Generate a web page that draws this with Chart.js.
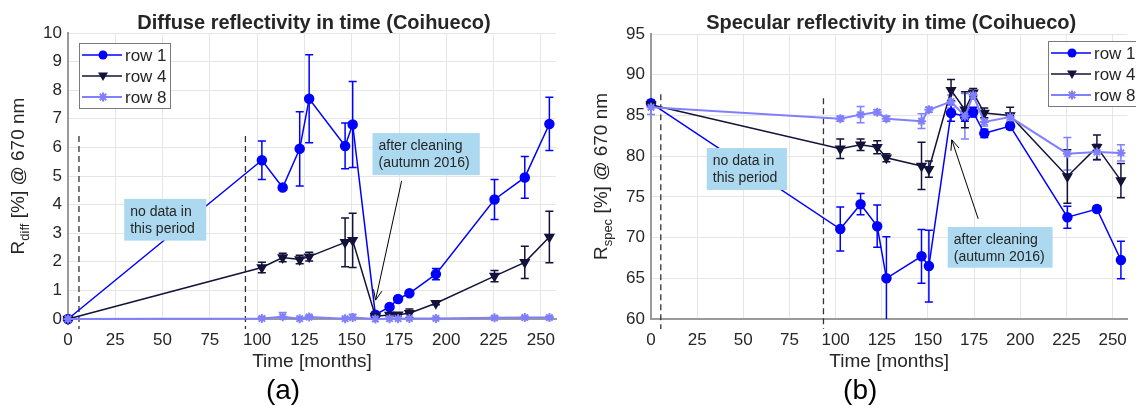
<!DOCTYPE html>
<html>
<head>
<meta charset="utf-8">
<script src="https://cdn.jsdelivr.net/npm/chart.js@4.4.0/dist/chart.umd.min.js"></script>
<style>
html, body { margin: 0; padding: 0; background: #fff; overflow: hidden; }
#wrap { position: relative; width: 1136px; height: 406px; overflow: hidden; }
#diffChart { position: absolute; left: 0; top: 0; }
#specChart { position: absolute; left: 568px; top: 0; }
</style>
</head>
<body>
<div id="wrap">
  <canvas id="diffChart" width="568" height="406"></canvas>
  <canvas id="specChart" width="570" height="406"></canvas>
</div>
<script>
// time of each measurement (months)
const months = [0, 102.5, 113.5, 122.5, 127.5, 146.5, 150.5, 162.5, 170, 174.5, 180.5, 194.5, 225.5, 241.5, 254.5];

// diffuse reflectivity [%]
const diffRow1 = [0, 5.55, 4.6, 5.95, 7.7, 6.05, 6.8, 0.15, 0.42, 0.7, 0.9, 1.57, 4.18, 4.95, 6.82];
const diffRow1Err = [0.03, 0.67, 0.05, 1.3, 1.54, 0.8, 1.5, 0.05, 0.05, 0.05, 0.05, 0.2, 0.7, 0.73, 0.93];
const diffRow4 = [0, 1.8, 2.15, 2.08, 2.18, 2.68, 2.75, 0.1, 0.14, 0.15, 0.2, 0.55, 1.5, 1.98, 2.87];
const diffRow4Err = [0.03, 0.18, 0.15, 0.15, 0.15, 0.85, 0.95, 0.05, 0.05, 0.05, 0.15, 0.05, 0.2, 0.56, 0.9];
const diffRow8 = [0, 0.02, 0.08, 0.01, 0.07, 0.01, 0.05, 0, 0.01, 0.01, 0.02, 0.02, 0.04, 0.05, 0.05];
const diffRow8Err = [0.05, 0.05, 0.15, 0.02, 0.05, 0.02, 0.12, 0.02, 0.02, 0.02, 0.02, 0.02, 0.05, 0.05, 0.05];

// specular reflectivity [%]
const specRow1 = [86.5, 71.05, 74.1, 71.4, 65.0, 67.7, 66.5, 85.3, 84.9, 85.4, 82.8, 83.7, 72.5, 73.5, 67.25];
const specRow1Err = [0.3, 2.7, 1.3, 2.6, 5.1, 3.3, 4.4, 1.0, 0.6, 0.6, 0.5, 0.4, 1.35, 0.4, 2.3];
const specRow4 = [86.3, 80.9, 81.4, 81.1, 79.8, 78.8, 78.4, 88.1, 85.7, 87.8, 85.3, 85.0, 77.5, 81.1, 77.0];
const specRow4Err = [0.3, 1.2, 0.7, 0.8, 0.5, 2.9, 1.0, 1.3, 2.2, 0.5, 0.6, 1.0, 3.3, 1.5, 2.1];
const specRow8 = [86.0, 84.6, 85.1, 85.4, 84.6, 84.3, 85.7, 86.7, 84.9, 87.5, 84.2, 84.8, 80.3, 80.5, 80.4];
const specRow8Err = [0.9, 0.3, 1.0, 0.3, 0.3, 0.9, 0.3, 0.8, 2.8, 0.5, 0.5, 0.5, 2.0, 1.0, 1.0];

const rowLabels = ['row 1', 'row 4', 'row 8'];
const xTicks = [0, 25, 50, 75, 100, 125, 150, 175, 200, 225, 250];
const diffTicks = [0, 1, 2, 3, 4, 5, 6, 7, 8, 9, 10];
const specTicks = [60, 65, 70, 75, 80, 85, 90, 95];

const FONT = '"Liberation Sans", Arial, Helvetica, sans-serif';
const TXT = '#262626';

function pts(ys) {
    return months.map(function (m, i) { return { x: m, y: ys[i] }; });
}

function makeSets(r1, e1, r4, e4, r8, e8) {
    return [
        { label: rowLabels[0], data: pts(r1), err: e1, borderColor: '#0000ff', backgroundColor: '#0000ff',
          borderWidth: 1.5, pointStyle: 'circle', pointRadius: 4.5, mark: 'circle', order: 2, clip: false },
        { label: rowLabels[1], data: pts(r4), err: e4, borderColor: '#12123a', backgroundColor: '#12123a',
          borderWidth: 1.5, pointStyle: 'triangle', pointRotation: 180, pointRadius: 5, mark: 'tri', order: 1, clip: false },
        { label: rowLabels[2], data: pts(r8), err: e8, borderColor: '#8080ff', backgroundColor: '#8080ff',
          borderWidth: 2, pointStyle: 'star', pointRadius: 4.5, pointBorderWidth: 2, mark: 'star', order: 0, clip: false }
    ];
}

function drawMarker(ctx, kind, x, y, color) {
    ctx.save();
    ctx.fillStyle = color;
    ctx.strokeStyle = color;
    if (kind === 'circle') {
        ctx.beginPath(); ctx.arc(x, y, 4.5, 0, Math.PI * 2); ctx.fill();
    } else if (kind === 'tri') {
        ctx.beginPath(); ctx.moveTo(x - 5, y - 3.5); ctx.lineTo(x + 5, y - 3.5); ctx.lineTo(x, y + 5); ctx.closePath(); ctx.fill();
    } else {
        ctx.lineWidth = 2;
        ctx.beginPath();
        ctx.moveTo(x - 4.5, y); ctx.lineTo(x + 4.5, y);
        ctx.moveTo(x, y - 4.5); ctx.lineTo(x, y + 4.5);
        ctx.moveTo(x - 3.2, y - 3.2); ctx.lineTo(x + 3.2, y + 3.2);
        ctx.moveTo(x - 3.2, y + 3.2); ctx.lineTo(x + 3.2, y - 3.2);
        ctx.stroke();
    }
    ctx.restore();
}

// titles, error bars, dashed limits, notes, arrows and legend
const decor = {
    id: 'decor',
    beforeDatasetsDraw(chart, args, o) {
        const ctx = chart.ctx, xs = chart.scales.x, ys = chart.scales.y, ca = chart.chartArea;
        ctx.save();
        // dashed lines for the period without data
        ctx.strokeStyle = '#333';
        ctx.lineWidth = 1.3;
        ctx.setLineDash([6, 4]);
        o.dashes.forEach(function (d) {
            const px = xs.getPixelForValue(d.x);
            ctx.beginPath();
            ctx.moveTo(px, ys.getPixelForValue(d.top));
            ctx.lineTo(px, ca.bottom + 10);
            ctx.stroke();
        });
        ctx.setLineDash([]);
        // error bars
        ctx.beginPath();
        ctx.rect(ca.left - 10, ca.top - 20, ca.right - ca.left + 20, ca.bottom - ca.top + 20);
        ctx.clip();
        chart.data.datasets.slice().reverse().forEach(function (ds) {
            ctx.strokeStyle = ds.borderColor;
            ctx.lineWidth = 1.5;
            ds.data.forEach(function (p, i) {
                const px = xs.getPixelForValue(p.x);
                const y1 = ys.getPixelForValue(p.y - ds.err[i]);
                const y2 = ys.getPixelForValue(p.y + ds.err[i]);
                ctx.beginPath();
                ctx.moveTo(px, y1); ctx.lineTo(px, y2);
                ctx.moveTo(px - 4, y1); ctx.lineTo(px + 4, y1);
                ctx.moveTo(px - 4, y2); ctx.lineTo(px + 4, y2);
                ctx.stroke();
            });
        });
        ctx.restore();
    },
    afterDatasetsDraw(chart, args, o) {
        const ctx = chart.ctx, xs = chart.scales.x, ys = chart.scales.y;
        ctx.save();
        // text notes
        o.notes.forEach(function (n) {
            const x0 = xs.getPixelForValue(n.x0), x1 = xs.getPixelForValue(n.x1);
            const y0 = ys.getPixelForValue(n.y0), y1 = ys.getPixelForValue(n.y1);
            ctx.fillStyle = '#acd9ef';
            ctx.fillRect(x0, y0, x1 - x0, y1 - y0);
            ctx.fillStyle = TXT;
            ctx.font = '14px ' + FONT;
            ctx.textAlign = 'left';
            ctx.textBaseline = 'middle';
            ctx.fillText(n.lines[0], x0 + 6, y0 + 13);
            ctx.fillText(n.lines[1], x0 + 6, y0 + 30);
        });
        // arrow
        const a = o.arrow;
        const ax0 = xs.getPixelForValue(a.from[0]), ay0 = ys.getPixelForValue(a.from[1]);
        const ax1 = xs.getPixelForValue(a.to[0]), ay1 = ys.getPixelForValue(a.to[1]);
        const ang = Math.atan2(ay1 - ay0, ax1 - ax0);
        ctx.strokeStyle = '#000';
        ctx.lineWidth = 1;
        ctx.beginPath();
        ctx.moveTo(ax0, ay0); ctx.lineTo(ax1, ay1);
        ctx.moveTo(ax1 - 11 * Math.cos(ang - 0.4), ay1 - 11 * Math.sin(ang - 0.4));
        ctx.lineTo(ax1, ay1);
        ctx.lineTo(ax1 - 11 * Math.cos(ang + 0.4), ay1 - 11 * Math.sin(ang + 0.4));
        ctx.stroke();
        // legend
        const b = o.legend;
        ctx.fillStyle = '#fff';
        ctx.fillRect(b.x, b.y, b.w, b.h);
        ctx.strokeStyle = '#7a7a7a';
        ctx.lineWidth = 1;
        ctx.strokeRect(b.x + 0.5, b.y + 0.5, b.w, b.h);
        chart.data.datasets.forEach(function (ds, i) {
            const ly = b.y + 12 + i * 21;
            ctx.strokeStyle = ds.borderColor;
            ctx.lineWidth = ds.borderWidth;
            ctx.beginPath();
            ctx.moveTo(b.x + 3, ly); ctx.lineTo(b.x + 43, ly);
            ctx.stroke();
            drawMarker(ctx, ds.mark, b.x + 24, ly, ds.borderColor);
            ctx.fillStyle = TXT;
            ctx.font = '17px ' + FONT;
            ctx.textAlign = 'left';
            ctx.textBaseline = 'middle';
            ctx.fillText(ds.label, b.x + 46, ly + 1);
        });
        ctx.restore();
    },
    afterDraw(chart, args, o) {
        const ctx = chart.ctx, ca = chart.chartArea;
        const cx = (ca.left + ca.right) / 2, cy = (ca.top + ca.bottom) / 2;
        ctx.save();
        ctx.fillStyle = TXT;
        ctx.textAlign = 'center';
        ctx.textBaseline = 'middle';
        ctx.font = 'bold 20px ' + FONT;
        ctx.fillText(o.title, cx + 2, 23);
        ctx.font = '19px ' + FONT;
        ctx.fillText('Time [months]', cx, 362);
        ctx.fillStyle = '#000';
        ctx.font = '28px ' + FONT;
        ctx.fillText(o.panel, cx - 29, 391);
        // y axis title with subscript
        ctx.fillStyle = TXT;
        ctx.translate(o.yLabelX, cy);
        ctx.rotate(-Math.PI / 2);
        ctx.textAlign = 'left';
        ctx.textBaseline = 'alphabetic';
        const big = '19px ' + FONT, small = '13px ' + FONT;
        ctx.font = big; const w1 = ctx.measureText('R').width;
        ctx.font = small; const w2 = ctx.measureText(o.ySub).width;
        ctx.font = big; const w3 = ctx.measureText(o.yRest).width;
        let sx = -(w1 + w2 + w3) / 2;
        ctx.font = big; ctx.fillText('R', sx, 7);
        ctx.font = small; ctx.fillText(o.ySub, sx + w1, 12);
        ctx.font = big; ctx.fillText(o.yRest, sx + w1 + w2, 7);
        ctx.restore();
    }
};

function axes(yMin, yMax, yTicks, yWidth) {
    return {
        x: {
            type: 'linear', min: 0, max: 258,
            afterBuildTicks: function (s) { s.ticks = xTicks.map(function (v) { return { value: v }; }); },
            afterFit: function (s) { s.height = 87; },
            grid: { color: '#e6e6e6', drawTicks: false },
            border: { color: '#9a9a9a', width: 2 },
            ticks: { color: TXT, font: { size: 17, family: FONT }, padding: 11, maxRotation: 0 }
        },
        y: {
            type: 'linear', min: yMin, max: yMax,
            afterBuildTicks: function (s) { s.ticks = yTicks.map(function (v) { return { value: v }; }); },
            afterFit: function (s) { s.width = yWidth; },
            grid: { color: '#e6e6e6', drawTicks: false },
            border: { color: '#9a9a9a', width: 2 },
            ticks: { color: TXT, font: { size: 17, family: FONT }, padding: 6 }
        }
    };
}

new Chart(document.getElementById('diffChart'), {
    type: 'line',
    data: { datasets: makeSets(diffRow1, diffRow1Err, diffRow4, diffRow4Err, diffRow8, diffRow8Err) },
    options: {
        responsive: false,
        animation: false,
        layout: { padding: { left: 0, top: 33, right: 12, bottom: 0 } },
        scales: axes(0, 10, diffTicks, 68),
        plugins: {
            legend: { display: false },
            tooltip: { enabled: false },
            decor: {
                title: 'Diffuse reflectivity in time (Coihueco)',
                panel: '(a)',
                ySub: 'diff', yRest: ' [%] @ 670 nm', yLabelX: 17,
                dashes: [{ x: 5.8, top: 6.4 }, { x: 93.8, top: 6.4 }],
                notes: [
                    { lines: ['no data in', 'this period'], x0: 29.7, x1: 73.1, y0: 4.2, y1: 2.74 },
                    { lines: ['after cleaning', '(autumn 2016)'], x0: 161, x1: 217.7, y0: 6.5, y1: 5.03 }
                ],
                arrow: { from: [176.4, 4.83], to: [162.6, 0.66] },
                legend: { x: 79, y: 43, w: 91, h: 65 }
            }
        }
    },
    plugins: [decor]
});

new Chart(document.getElementById('specChart'), {
    type: 'line',
    data: { datasets: makeSets(specRow1, specRow1Err, specRow4, specRow4Err, specRow8, specRow8Err) },
    options: {
        responsive: false,
        animation: false,
        layout: { padding: { left: 0, top: 34, right: 0, bottom: 0 } },
        scales: axes(60, 95, specTicks, 83),
        plugins: {
            legend: { display: false },
            tooltip: { enabled: false },
            decor: {
                title: 'Specular reflectivity in time (Coihueco)',
                panel: '(b)',
                ySub: 'spec', yRest: ' [%] @ 670 nm', yLabelX: 32,
                dashes: [{ x: 5.3, top: 87.6 }, { x: 93.4, top: 87.1 }],
                notes: [
                    { lines: ['no data in', 'this period'], x0: 30.2, x1: 73.7, y0: 81.0, y1: 75.85 },
                    { lines: ['after cleaning', '(autumn 2016)'], x0: 160.7, x1: 217.5, y0: 71.3, y1: 66.3 }
                ],
                arrow: { from: [177.2, 72.3], to: [162.9, 82.0] },
                legend: { x: 480, y: 41, w: 100, h: 65 }
            }
        }
    },
    plugins: [decor]
});
</script>
</body>
</html>
